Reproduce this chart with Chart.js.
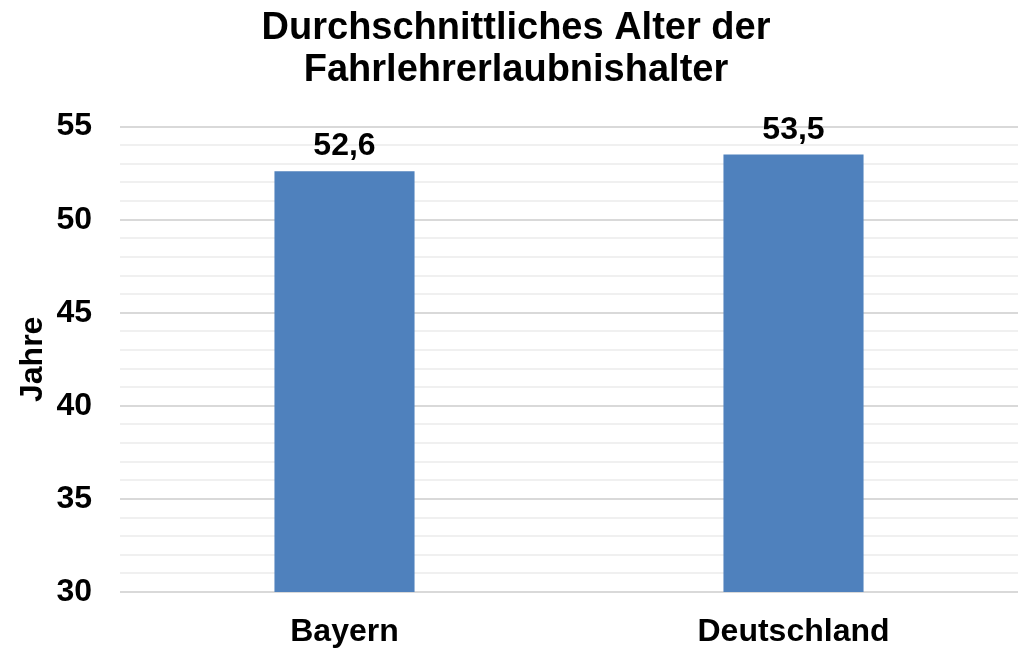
<!DOCTYPE html>
<html><head><meta charset="utf-8">
<script src="https://cdn.jsdelivr.net/npm/chart.js@4/dist/chart.umd.min.js"></script>
<style>html,body{margin:0;padding:0;background:#fff}#w{width:1018px;height:648px}</style>
</head><body><div id="w"><canvas id="c"></canvas></div>
<script>
const categories = ["Bayern", "Deutschland"];
const values = [52.6, 53.5];
const yMin = 30, yMax = 55;
const titleLines = ["Durchschnittliches Alter der", "Fahrlehrerlaubnishalter"];
const yTitle = "Jahre";

const F = "'Liberation Sans', Arial, sans-serif";
const labelPlugin = {
  id: 'vals',
  afterDatasetsDraw(chart) {
    const ctx = chart.ctx;
    const meta = chart.getDatasetMeta(0);
    ctx.save();
    ctx.font = "bold 32px " + F;
    ctx.fillStyle = "#000";
    ctx.textAlign = "center";
    ctx.textBaseline = "alphabetic";
    meta.data.forEach((bar, i) => {
      ctx.fillText(values[i].toFixed(1).replace('.', ','), bar.x, bar.y - 16);
    });
    ctx.restore();
  }
};
new Chart(document.getElementById('c'), {
  type: 'bar',
  data: { labels: categories, datasets: [{ data: values, backgroundColor: '#4f81bd', barPercentage: 0.312, categoryPercentage: 1 }] },
  options: {
    responsive: true, maintainAspectRatio: false, animation: false,
    layout: { padding: { top: 0, right: 0, left: 14, bottom: 0 } },
    plugins: {
      legend: { display: false }, tooltip: { enabled: false },
      title: { display: true, text: titleLines, color: '#000', font: { family: F, size: 38, weight: 'bold', lineHeight: 1.1 }, padding: { top: 8, bottom: 35 } }
    },
    scales: {
      x: {
        grid: { display: false }, border: { display: false },
        ticks: { color: '#000', font: { family: F, size: 32, weight: 'bold', lineHeight: 1.2 }, padding: 13 },
        afterFit: s => { s.height = 56; }
      },
      y: {
        min: yMin, max: yMax,
        border: { display: false },
        grid: { color: ctx => (ctx.tick && ctx.tick.value % 5 === 0) ? '#d9d9d9' : '#f0f0f0', lineWidth: 2, drawTicks: false },
        ticks: { stepSize: 1, autoSkip: false, color: '#000', padding: 28, font: { family: F, size: 32, weight: 'bold' },
          callback: v => v % 5 === 0 ? String(v) : '' },
        title: { display: true, text: yTitle, color: '#000', font: { family: F, size: 32, weight: 'bold', lineHeight: 1.2 }, padding: { top: 0, bottom: 5 } },
        afterFit: s => { s.width = 106; }
      }
    }
  },
  plugins: [labelPlugin]
});
</script></body></html>
